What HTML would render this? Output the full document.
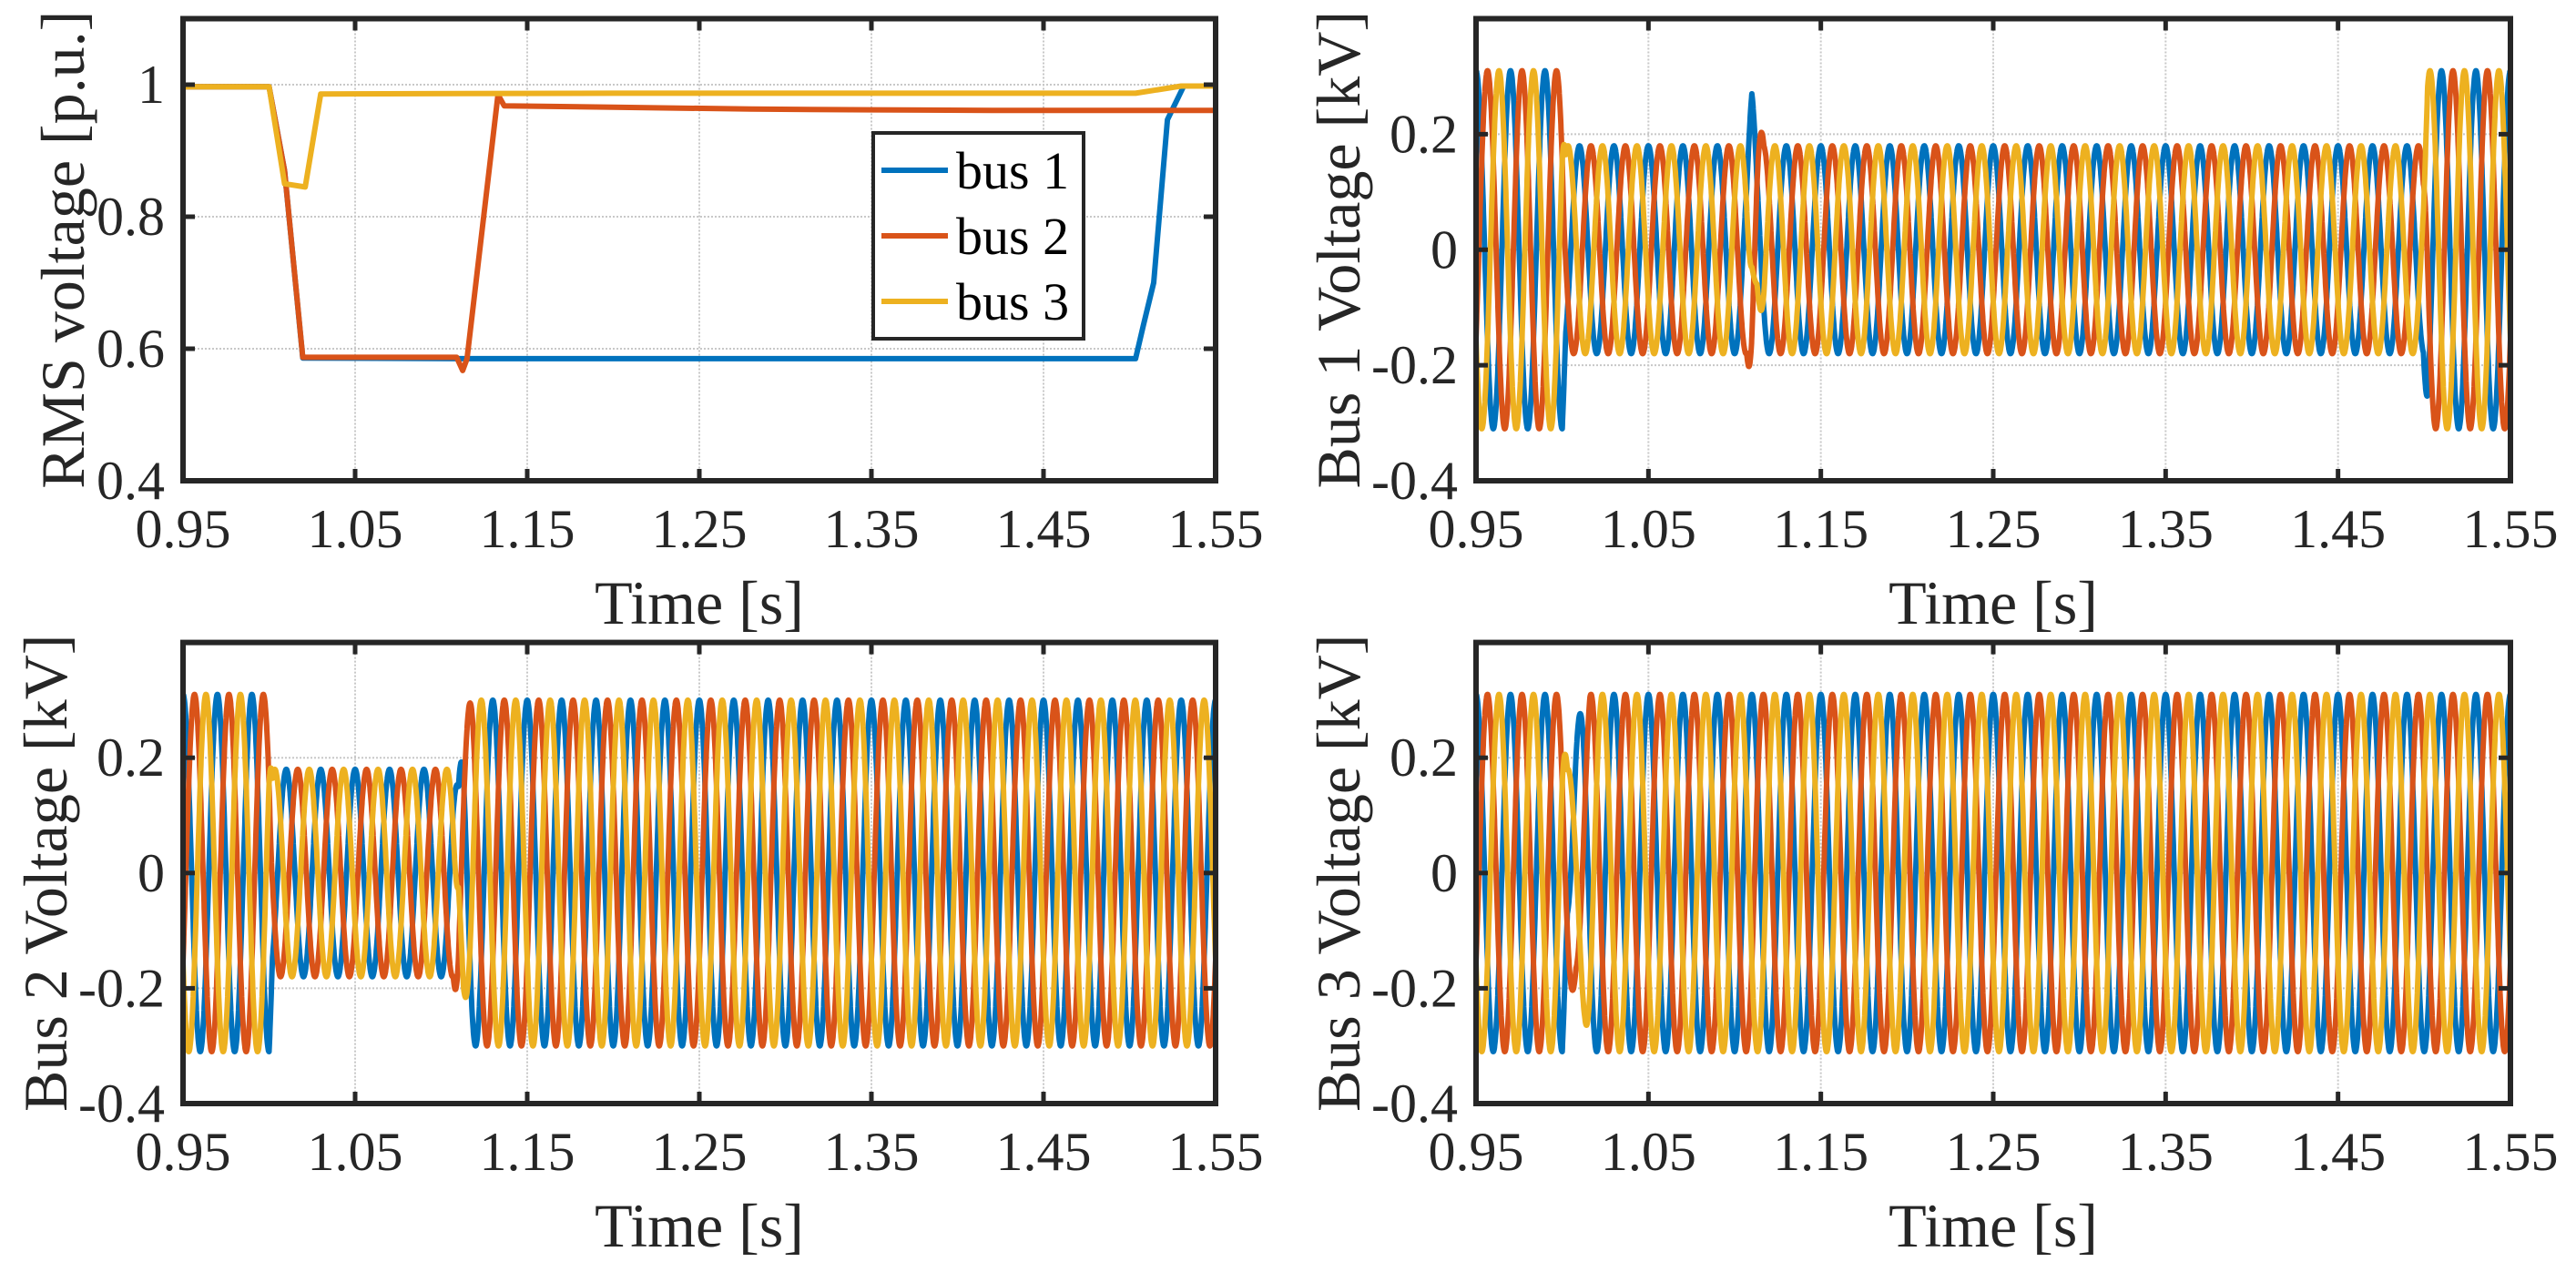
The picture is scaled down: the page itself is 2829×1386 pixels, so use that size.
<!DOCTYPE html>
<html><head><meta charset="utf-8"><style>
html,body{margin:0;padding:0;background:#fff;}
svg{display:block;font-family:"Liberation Serif","DejaVu Serif",serif;}
</style></head>
<body>
<svg id="fig" width="2829" height="1386" viewBox="0 0 2829 1386" xmlns="http://www.w3.org/2000/svg"></svg>
<script>
// ---------- data ----------
const xTicks = [0.95, 1.05, 1.15, 1.25, 1.35, 1.45, 1.55];
const xTickLabels = ["0.95", "1.05", "1.15", "1.25", "1.35", "1.45", "1.55"];
const rmsTicks = [0.4, 0.6, 0.8, 1.0];
const rmsTickLabels = ["0.4", "0.6", "0.8", "1"];
const vTicks = [-0.4, -0.2, 0, 0.2];
const vTickLabels = ["-0.4", "-0.2", "0", "0.2"];
const seriesNames = ["bus 1", "bus 2", "bus 3"];

// RMS voltage (p.u.) breakpoints
const rmsBus1T = [0.95, 1.0, 1.009, 1.0196, 1.109, 1.30, 1.5035, 1.508, 1.514, 1.522, 1.5315, 1.55];
const rmsBus1V = [0.997, 0.997, 0.87, 0.586, 0.585, 0.585, 0.585, 0.635, 0.70, 0.947, 0.998, 0.998];
const rmsBus2T = [0.95, 1.0, 1.009, 1.0196, 1.109, 1.1125, 1.115, 1.133, 1.1366, 1.20, 1.28, 1.35, 1.42, 1.50, 1.55];
const rmsBus2V = [0.997, 0.997, 0.87, 0.587, 0.587, 0.567, 0.585, 0.985, 0.968, 0.966, 0.963, 0.962, 0.961, 0.961, 0.961];
const rmsBus3T = [0.95, 1.0, 1.009, 1.021, 1.030, 1.20, 1.40, 1.5035, 1.530, 1.55];
const rmsBus3V = [0.997, 0.997, 0.85, 0.845, 0.986, 0.987, 0.987, 0.987, 0.998, 0.998];

// Instantaneous voltage envelopes (kV peak) per bus, per phase [blue, orange, yellow]
const freqHz = 50;
const phaseShiftDeg = [0, -120, 120];
const bus1EnvT = [0.95, 1.0, 1.002, 1.107, 1.110, 1.113, 1.117, 1.4995, 1.502, 1.55];
const bus1EnvA = [
  [0.31, 0.31, 0.18, 0.18, 0.27, 0.20, 0.18, 0.18, 0.31, 0.31],
  [0.31, 0.31, 0.18, 0.18, 0.30, 0.28, 0.18, 0.18, 0.31, 0.31],
  [0.31, 0.31, 0.18, 0.18, 0.06, 0.06, 0.18, 0.18, 0.31, 0.31]
];
const bus2EnvT = [0.95, 1.0, 1.002, 1.107, 1.110, 1.113, 1.118, 1.55];
const bus2EnvA = [
  [0.31, 0.31, 0.18, 0.18, 0.15, 0.28, 0.30, 0.30],
  [0.31, 0.31, 0.18, 0.18, 0.30, 0.28, 0.30, 0.30],
  [0.31, 0.31, 0.18, 0.18, 0.05, 0.20, 0.30, 0.30]
];
const bus3EnvT = [0.95, 1.0, 1.003, 1.008, 1.013, 1.016, 1.55];
const bus3EnvA = [
  [0.31, 0.31, 0.12, 0.25, 0.31, 0.31, 0.31],
  [0.31, 0.31, 0.25, 0.18, 0.26, 0.31, 0.31],
  [0.31, 0.31, 0.18, 0.18, 0.25, 0.31, 0.31]
];

const colors = ["#0072BD", "#D95319", "#EDB120"];
const NS = "http://www.w3.org/2000/svg";
const svg = document.getElementById("fig");

function el(tag, attrs, parent) {
  const e = document.createElementNS(NS, tag);
  for (const k in attrs) e.setAttribute(k, attrs[k]);
  (parent || svg).appendChild(e);
  return e;
}
function interp(ts, vs, t) {
  if (t <= ts[0]) return vs[0];
  for (let i = 1; i < ts.length; i++) {
    if (t <= ts[i]) { const f = (t - ts[i-1]) / (ts[i] - ts[i-1]); return vs[i-1] + f * (vs[i] - vs[i-1]); }
  }
  return vs[vs.length - 1];
}

function makeAxes(name, box, ylim, yT, yL, ylabel, ylabX) {
  const g = el("g", {});
  
  
  const sx = v => box.l + (v - 0.95) / 0.6 * (box.r - box.l);
  const sy = v => box.b - (v - ylim[0]) / (ylim[1] - ylim[0]) * (box.b - box.t);
  const grid = el("g", {stroke: "#c8c8c8", "stroke-width": 2, "stroke-dasharray": "2 2"}, g);
  
  
  xTicks.forEach(v => el("line", {x1: sx(v), x2: sx(v), y1: box.t, y2: box.b}, grid));
  yT.forEach(v => el("line", {x1: box.l, x2: box.r, y1: sy(v), y2: sy(v)}, grid));
  const clipId = name + "-clip";
  const cp = el("clipPath", {id: clipId}, g);
  el("rect", {x: box.l, y: box.t, width: box.r - box.l, height: box.b - box.t}, cp);
  const plot = el("g", {"clip-path": "url(#" + clipId + ")"}, g);
  const tk = el("g", {stroke: "#262626", "stroke-width": 5}, g);
  xTicks.forEach(v => {
    el("line", {x1: sx(v), x2: sx(v), y1: box.b, y2: box.b - 13}, tk);
    el("line", {x1: sx(v), x2: sx(v), y1: box.t, y2: box.t + 13}, tk);
  });
  yT.forEach(v => {
    el("line", {x1: box.l, x2: box.l + 13, y1: sy(v), y2: sy(v)}, tk);
    el("line", {x1: box.r, x2: box.r - 13, y1: sy(v), y2: sy(v)}, tk);
  });
  const frame = el("rect", {x: box.l, y: box.t, width: box.r - box.l, height: box.b - box.t, fill: "none", stroke: "#262626", "stroke-width": 6}, g);
  
  
  xTicks.forEach((v, i) => {
    const t = el("text", {x: sx(v), y: box.b + 73, "text-anchor": "middle", "font-size": 60, fill: "#262626"}, g);
    t.textContent = xTickLabels[i];
    
    
  });
  yT.forEach((v, i) => {
    const t = el("text", {x: box.l - 20, y: sy(v) + 20, "text-anchor": "end", "font-size": 60, fill: "#262626"}, g);
    t.textContent = yL[i];
    
    
  });
  const xl = el("text", {x: (box.l + box.r) / 2, y: box.b + 157, "text-anchor": "middle", "font-size": 68, fill: "#262626"}, g);
  xl.textContent = "Time [s]";
  
  
  const cy = (box.t + box.b) / 2;
  const yl = el("text", {x: ylabX, y: cy, "text-anchor": "middle", "dominant-baseline": "central", "font-size": 68, fill: "#262626", transform: "rotate(-90 " + ylabX + " " + cy + ")"}, g);
  yl.textContent = ylabel;
  
  
  return {plot, sx, sy};
}

function drawRms(ax, ts, vs, color, label) {
  let d = "";
  ts.forEach((t, i) => { d += (i ? "L" : "M") + ax.sx(t).toFixed(1) + " " + ax.sy(vs[i]).toFixed(1); });
  const p = el("path", {d, fill: "none", stroke: color, "stroke-width": 6, "stroke-linejoin": "round"}, ax.plot);
  
  
}
function drawWave(ax, envT, envA, busName) {
  const dt = 0.0001;
  for (let ph = 0; ph < 3; ph++) {
    let d = "";
    const n = Math.round(0.6 / dt);
    for (let i = 0; i <= n; i++) {
      const t = 0.95 + i * dt;
      const a = interp(envT, envA[ph], t);
      const v = a * Math.cos(2 * Math.PI * freqHz * (t - 0.95) + phaseShiftDeg[ph] * Math.PI / 180);
      d += (i ? "L" : "M") + ax.sx(t).toFixed(1) + " " + ax.sy(v).toFixed(1);
    }
    const p = el("path", {d, fill: "none", stroke: colors[ph], "stroke-width": 6, "stroke-linejoin": "round"}, ax.plot);
    
    
  }
}

const axRms = makeAxes("rms-axes", {l: 201, t: 20.5, r: 1335, b: 528}, [0.4, 1.1], rmsTicks, rmsTickLabels, "RMS voltage [p.u.]", 69);
drawRms(axRms, rmsBus1T, rmsBus1V, colors[0], "rms-bus-1-line");
drawRms(axRms, rmsBus2T, rmsBus2V, colors[1], "rms-bus-2-line");
drawRms(axRms, rmsBus3T, rmsBus3V, colors[2], "rms-bus-3-line");

const lg = el("g", {});


el("rect", {x: 959, y: 146, width: 231, height: 226, fill: "#fff", stroke: "#262626", "stroke-width": 4}, lg);
seriesNames.forEach((nm, i) => {
  const cy = 187 + i * 72;
  const e = el("g", {}, lg);
  
  
  el("line", {x1: 968, x2: 1041, y1: cy, y2: cy, stroke: colors[i], "stroke-width": 6}, e);
  const t = el("text", {x: 1050, y: cy + 20, "font-size": 58, fill: "#000"}, e);
  t.textContent = nm;
});

const ax1 = makeAxes("bus1-axes", {l: 1621, t: 20.5, r: 2757, b: 528}, [-0.4, 0.4], vTicks, vTickLabels, "Bus 1 Voltage [kV]", 1470);
drawWave(ax1, bus1EnvT, bus1EnvA, "bus1");
const ax2 = makeAxes("bus2-axes", {l: 201, t: 705.6, r: 1335, b: 1212}, [-0.4, 0.4], vTicks, vTickLabels, "Bus 2 Voltage [kV]", 50);
drawWave(ax2, bus2EnvT, bus2EnvA, "bus2");
const ax3 = makeAxes("bus3-axes", {l: 1621, t: 705.6, r: 2757, b: 1212}, [-0.4, 0.4], vTicks, vTickLabels, "Bus 3 Voltage [kV]", 1470);
drawWave(ax3, bus3EnvT, bus3EnvA, "bus3");
</script>
</body></html>
